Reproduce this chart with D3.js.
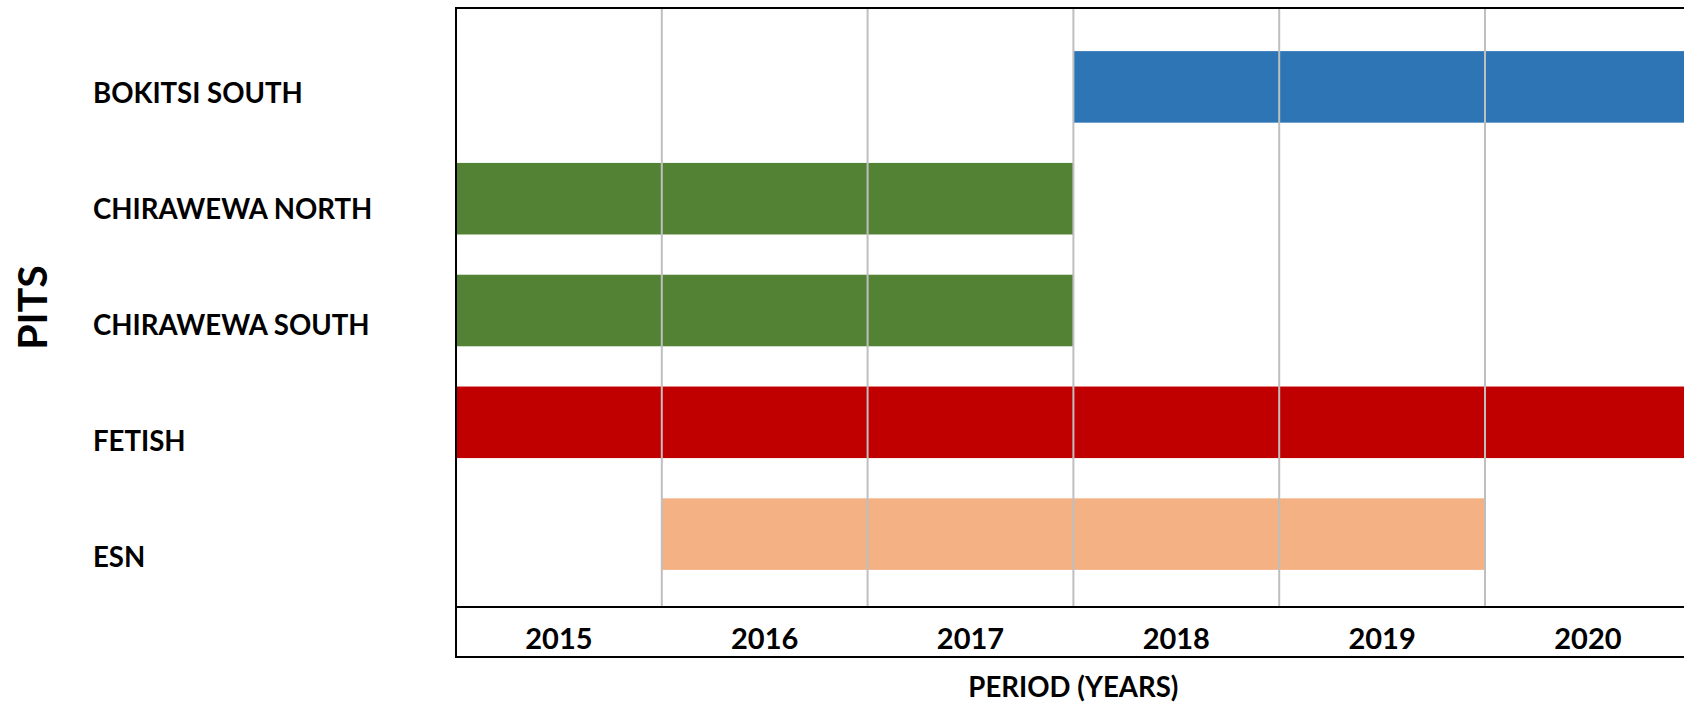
<!DOCTYPE html>
<html>
<head>
<meta charset="utf-8">
<script src="https://cdn.jsdelivr.net/npm/d3@7"></script>
<style>
  html, body { margin: 0; padding: 0; background: #fff; }
  svg { display: block; }
  text { font-family: Lato, "Open Sans", sans-serif; font-weight: 700; fill: #000; }
</style>
</head>
<body>
<svg id="chart" width="1684" height="705"></svg>
<script>
// ---- data ----
const pits = ["BOKITSI SOUTH", "CHIRAWEWA NORTH", "CHIRAWEWA SOUTH", "FETISH", "ESN"];
const startYear = [2018, 2015, 2015, 2015, 2016];
const endYear   = [2021, 2018, 2018, 2021, 2020];   // exclusive (end of previous year)
const barColors = ["#2E75B6", "#548235", "#548235", "#C00000", "#F4B183"];
const years = [2015, 2016, 2017, 2018, 2019, 2020];
const xTitle = "PERIOD (YEARS)";
const yTitle = "PITS";

// ---- layout ----
const plotLeft = 456, plotTop = 8, plotBottom = 607, axisBottom = 657;
const colW = 205.8;

const svg = d3.select("#chart");

const x = d3.scaleLinear()
  .domain([years[0], years[years.length - 1] + 1])
  .range([plotLeft, plotLeft + colW * years.length]);

const y = d3.scaleBand()
  .domain(pits)
  .range([31, 590])
  .paddingInner(0.36)
  .paddingOuter(0.18);

const yLabel = d3.scalePoint()
  .domain(pits)
  .range([92, 556]);

const rows = pits.map((p, i) => ({ pit: p, s: startYear[i], e: endYear[i], c: barColors[i] }));

// bars
svg.append("g").selectAll("rect")
  .data(rows)
  .join("rect")
  .attr("x", d => x(d.s))
  .attr("width", d => x(d.e) - x(d.s))
  .attr("y", d => y(d.pit))
  .attr("height", y.bandwidth())
  .attr("fill", d => d.c);

// grid lines (year boundaries)
svg.append("g").selectAll("line")
  .data(years.slice(1))
  .join("line")
  .attr("x1", d => x(d)).attr("x2", d => x(d))
  .attr("y1", plotTop).attr("y2", plotBottom)
  .attr("stroke", "#BFBFBF")
  .attr("stroke-width", 2);

// frame
const right = x.range()[1];
const frame = svg.append("g").attr("stroke", "#000").attr("stroke-width", 2);
frame.append("line").attr("x1", plotLeft).attr("x2", right).attr("y1", plotTop).attr("y2", plotTop);
frame.append("line").attr("x1", plotLeft).attr("x2", right).attr("y1", plotBottom).attr("y2", plotBottom);
frame.append("line").attr("x1", plotLeft).attr("x2", right).attr("y1", axisBottom).attr("y2", axisBottom);
frame.append("line").attr("x1", plotLeft).attr("x2", plotLeft).attr("y1", plotTop - 1).attr("y2", axisBottom + 1);
frame.append("line").attr("x1", right).attr("x2", right).attr("y1", plotTop - 1).attr("y2", axisBottom + 1);

// year labels
svg.append("g").selectAll("text")
  .data(years)
  .join("text")
  .attr("x", d => x(d + 0.5))
  .attr("y", 648.5)
  .attr("text-anchor", "middle")
  .style("font-size", "29px")
  .text(d => d);

// pit labels
svg.append("g").selectAll("text")
  .data(pits)
  .join("text")
  .attr("x", 93)
  .attr("y", d => yLabel(d))
  .attr("dominant-baseline", "central")
  .style("font-size", "27.6px")
  .text(d => d);

// axis titles
svg.append("text")
  .attr("x", (plotLeft + right) / 2)
  .attr("y", 696.5)
  .attr("text-anchor", "middle")
  .style("font-size", "27.6px")
  .text(xTitle);

svg.append("text")
  .attr("transform", `translate(46.5, ${(plotTop + plotBottom) / 2}) rotate(-90)`)
  .attr("text-anchor", "middle")
  .style("font-size", "41px")
  .text(yTitle);
</script>
</body>
</html>
